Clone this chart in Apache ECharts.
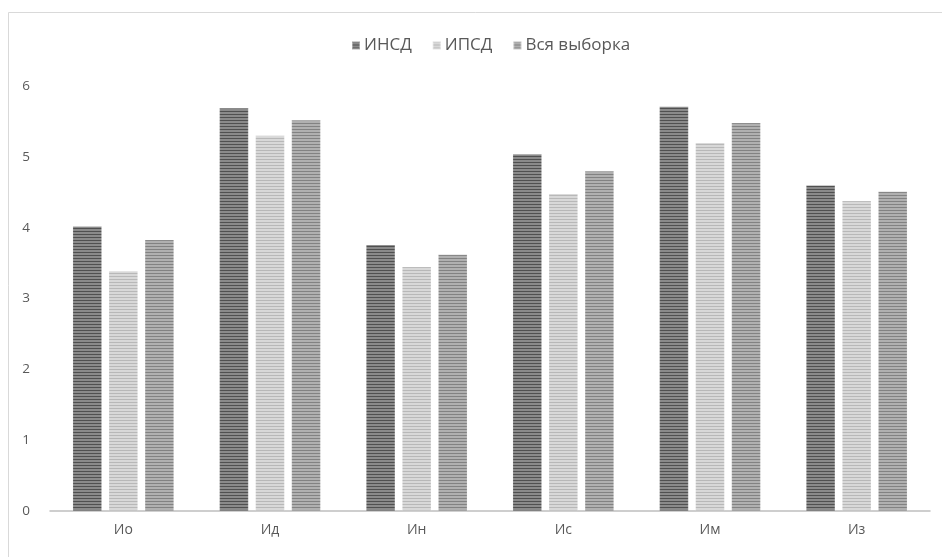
<!DOCTYPE html>
<html><head><meta charset="utf-8">
<script src="https://cdn.jsdelivr.net/npm/echarts@6/dist/echarts.min.js"></script>
<style>html,body{margin:0;padding:0;background:#fff}#c{width:942px;height:557px}</style>
</head><body><div id="c"></div>
<script>
var categories = ['Ио','Ид','Ин','Ис','Им','Из'];
var seriesNames = ['ИНСД','ИПСД','Вся выборка'];
var insd = [4.02, 5.69, 3.76, 5.04, 5.71, 4.60];
var ipsd = [3.39, 5.30, 3.45, 4.48, 5.20, 4.38];
var all  = [3.83, 5.52, 3.62, 4.80, 5.48, 4.51];
var yTicks = [0,1,2,3,4,5,6];

function stripe(dark, light) {
  var c = document.createElement('canvas');
  c.width = 4; c.height = 3;
  var g = c.getContext('2d');
  g.fillStyle = light; g.fillRect(0,0,4,3);
  g.fillStyle = dark; g.fillRect(0,0,4,1);
  return {image: c, repeat: 'repeat'};
}
var colors = [
  stripe('#505050', '#8a8a8a'),
  stripe('#b8b8b8', '#d8d8d8'),
  stripe('#828282', '#b0b0b0')
];
var chart = echarts.init(document.getElementById('c'), null, {renderer:'canvas'});
var font = '"Open Sans", "DejaVu Sans", sans-serif';
function mk(name, data, col) {
  return {
    name: name, type: 'bar', data: data,
    barGap: '24%', barCategoryGap: '31%',
    itemStyle: {color: col, borderColor: 'rgba(255,255,255,0.35)', borderWidth: 0.5},
    emphasis: {disabled: true}
  };
}
chart.setOption({
  animation: false,
  backgroundColor: '#fff',
  graphic: [{type:'rect', shape:{x:8.5, y:12.5, width:960, height:600}, style:{fill:'none', stroke:'#d9d9d9', lineWidth:1}, silent:true}],
  legend: {
    top: 32, left: 346,
    icon: 'rect', itemWidth: 8, itemHeight: 8, itemGap: 20,
    textStyle: {color:'#595959', fontSize: 17, fontFamily: font, padding: [0,0,0,-1]},
    data: seriesNames
  },
  grid: {left: 50, right: 12, top: 86, bottom: 46, containLabel: false},
  xAxis: {
    type: 'category', data: categories,
    axisLine: {lineStyle: {color: '#bfbfbf', width: 1.5}},
    axisTick: {show: false},
    axisLabel: {color:'#595959', fontSize: 14, fontFamily: font, margin: 12}
  },
  yAxis: {
    type: 'value', min: 0, max: 6, interval: 1,
    axisLine: {show: false}, axisTick: {show: false},
    splitLine: {show: false},
    axisLabel: {color:'#595959', fontSize: 13.5, fontFamily: font, margin: 20,
      formatter: function(v){ return yTicks.indexOf(v) >= 0 ? String(v) : ''; }}
  },
  series: [mk(seriesNames[0], insd, colors[0]), mk(seriesNames[1], ipsd, colors[1]), mk(seriesNames[2], all, colors[2])]
});
</script></body></html>
